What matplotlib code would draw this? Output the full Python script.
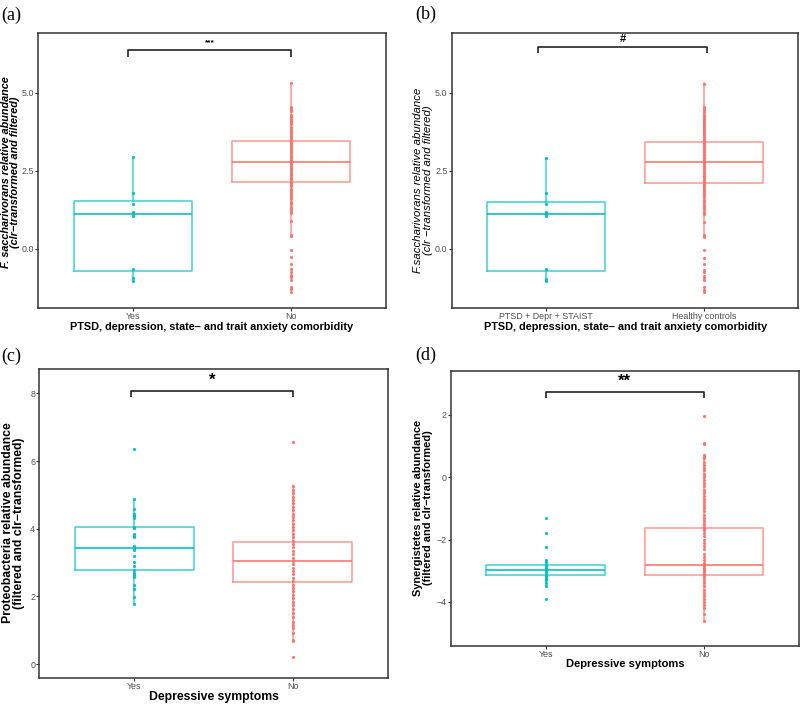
import matplotlib
matplotlib.use("Agg")
import matplotlib.pyplot as plt

plt.rcParams['font.family'] = ['Liberation Sans', 'DejaVu Sans']

TEAL = "#00BFC4"
RED = "#F8766D"

# ---------------- data ----------------
cats_ab = ["Yes", "No"]
cats_b = ["PTSD + Depr + STAIST", "Healthy controls"]
cats_cd = ["Yes", "No"]

# box stats: [whislo, q1, median, q3, whishi]
box_ab_yes = [-1.02, -0.715, 1.12, 1.52, 2.93]
box_ab_no = [0.41, 2.13, 2.79, 3.44, 5.32]
box_c_yes = [1.77, 2.79, 3.42, 4.06, 4.87]
box_c_no = [0.67, 2.42, 3.04, 3.62, 5.26]
box_d_yes = [-3.51, -3.15, -2.99, -2.83, -2.66]
box_d_no = [-4.62, -3.15, -2.81, -1.64, 0.62]

pts_ab_yes = [2.93, 1.79, 1.43, 1.18, 1.12, 1.05, -0.64, -0.95, -1.02]
pts_ab_no = [5.30, 4.55, 4.50, 4.45, 4.40, 4.28, 4.22, 4.15, 4.10, 4.05, 3.98,
             3.90, 3.85, 3.78, 3.72, 3.65, 3.60, 3.55, 3.50, 3.45, 3.40, 3.35,
             3.30, 3.25, 3.20, 3.15, 3.10, 3.05, 3.00, 2.95, 2.90, 2.85, 2.80,
             2.78, 2.75, 2.70, 2.65, 2.60, 2.55, 2.50, 2.45, 2.40, 2.35, 2.30,
             2.25, 2.20, 2.15, 2.10, 2.05, 2.00, 1.92, 1.85, 1.78, 1.72, 1.65,
             1.58, 1.50, 1.42, 1.35, 1.28, 1.20, 1.13, 0.88, 0.44, 0.40, -0.04,
             -0.28, -0.49, -0.66, -0.75, -0.85, -0.92, -1.00, -1.22, -1.30, -1.38]
pts_c_yes = [6.35, 4.87, 4.58, 4.43, 4.38, 4.31, 4.06, 4.02, 3.86, 3.80, 3.76,
             3.49, 3.45, 3.40, 3.37, 3.19, 3.03, 2.90, 2.78, 2.70, 2.62, 2.58,
             2.34, 2.21, 1.99, 1.78]
pts_c_no = [6.57, 5.26, 5.15, 5.05, 4.95, 4.85, 4.75, 4.65, 4.55, 4.45, 4.35,
            4.25, 4.15, 4.05, 3.95, 3.85, 3.75, 3.65, 3.55, 3.45, 3.35, 3.25,
            3.15, 3.05, 2.95, 2.85, 2.75, 2.65, 2.55, 2.45, 2.35, 2.25, 2.15,
            2.05, 1.95, 1.85, 1.75, 1.62, 1.52, 1.40, 1.26, 1.15, 1.06, 0.91,
            0.70, 0.67, 0.22]
pts_d_yes = [-1.30, -1.79, -2.23, -2.66, -2.72, -2.80, -2.86, -2.92, -2.98,
             -3.04, -3.10, -3.16, -3.22, -3.30, -3.40, -3.50, -3.89]
pts_d_no = [1.95, 1.08, 1.06, 0.70, 0.65, 0.60, 0.50, 0.40, 0.30, 0.22, 0.10,
            0.00, -0.10, -0.20, -0.30, -0.40, -0.50, -0.60, -0.70, -0.80, -0.90,
            -1.00, -1.10, -1.20, -1.30, -1.40, -1.50, -1.60, -1.65, -1.70, -1.80,
            -1.90, -2.00, -2.10, -2.20, -2.30, -2.45, -2.55, -2.65, -2.75, -2.80,
            -2.85, -2.90, -2.95, -3.00, -3.05, -3.10, -3.15, -3.20, -3.30, -3.40,
            -3.50, -3.60, -3.70, -3.80, -3.90, -4.00, -4.10, -4.20, -4.37, -4.61]

# ---------------- figure ----------------
W, H = 800.0, 704.0
fig = plt.figure(figsize=(8, 7.04), dpi=100)

def mkstats(b):
    return dict(whislo=b[0], q1=b[1], med=b[2], q3=b[3], whishi=b[4], fliers=[])

def rect(x0, y0, x1, y1):
    return [x0 / W, 1 - y1 / H, (x1 - x0) / W, (y1 - y0) / H]

def panel(box_px, boxes, pts, cats, ylim, yticks, yticklabels,
          ylabel, ylab_kw, ylab_xy, ylab_size,
          xlabel, xlab_size, xlab_y,
          bracket, sig, sig_size, letter, letter_xy):
    ax = fig.add_axes(rect(*box_px))
    colors = [TEAL, RED]
    for i, (b, p, c) in enumerate(zip(boxes, pts, colors)):
        pos = i + 1
        ax.bxp([mkstats(b)], positions=[pos], widths=0.75, showfliers=False,
               manage_ticks=False,
               boxprops=dict(color=c, lw=1.1, alpha=0.75),
               medianprops=dict(color=c, lw=1.3, alpha=0.9),
               whiskerprops=dict(color=c, lw=1.1, alpha=0.75),
               capprops=dict(lw=0))
        ax.scatter([pos] * len(p), p, s=5, color=c, lw=0, zorder=3)
    ax.set_xlim(0.4, 2.6)
    ax.set_ylim(*ylim)
    ax.set_xticks([1, 2])
    ax.set_xticklabels(cats, fontsize=6.4, color="#4D4D4D")
    ax.set_yticks(yticks)
    ax.set_yticklabels(yticklabels, fontsize=6.4, color="#4D4D4D")
    ax.tick_params(length=2, width=0.8, color="#333333", pad=1)
    for s in ax.spines.values():
        s.set_color("#333333")
        s.set_linewidth(1.1)
    fig.text(ylab_xy[0] / W, 1 - ylab_xy[1] / H, ylabel, rotation=90,
             fontsize=ylab_size, ha="center", va="center", linespacing=0.95,
             multialignment="center", **ylab_kw)
    cx = (box_px[0] + box_px[2]) / 2
    fig.text(cx / W, 1 - xlab_y / H, xlabel, fontsize=xlab_size,
             fontweight="bold", ha="center", va="center")
    x0, x1, yb, yt = bracket
    ax.plot([x0, x0, x1, x1], [yb, yt, yt, yb], color="#222222", lw=1.2,
            solid_capstyle="butt")
    ax.text((x0 + x1) / 2, yt + (ylim[1] - ylim[0]) * 0.012, sig,
            ha="center", va="bottom", fontsize=sig_size, fontweight="bold")
    fig.text(letter_xy[0] / W, 1 - letter_xy[1] / H, letter, fontsize=13,
             family="Liberation Serif", ha="left", va="center")
    return ax

panel((38, 33, 386, 308), [box_ab_yes, box_ab_no], [pts_ab_yes, pts_ab_no],
      cats_ab, (-1.90, 6.91), [0, 2.5, 5.0], ["0.0", "2.5", "5.0"],
      "F. saccharivorans relative abundance\n(clr\u2212transformed and filtered)",
      dict(fontweight="bold", style="italic"), (10.5, 172), 7.8,
      "PTSD, depression, state\u2013 and trait anxiety comorbidity", 7.8, 327,
      (0.97, 2.0, 6.15, 6.37), "***", 6, "(a)", (1, 15))

panel((451.7, 33.3, 798.3, 308.3), [box_ab_yes, box_ab_no], [pts_ab_yes, pts_ab_no],
      cats_b, (-1.90, 6.91), [0, 2.5, 5.0], ["0.0", "2.5", "5.0"],
      "F.saccharivorans relative abundance\n(clr \u2212transformed and filtered)",
      dict(style="italic"), (423, 180), 8.2,
      "PTSD, depression, state\u2013 and trait anxiety comorbidity", 7.8, 327,
      (0.95, 2.02, 6.28, 6.47), "#", 8, "(b)", (415, 14))

panel((39.3, 369, 387.7, 677.7), [box_c_yes, box_c_no], [pts_c_yes, pts_c_no],
      cats_cd, (-0.40, 8.72), [0, 2, 4, 6, 8], ["0", "2", "4", "6", "8"],
      "Proteobacteria relative abundance\n(filtered and clr\u2212transformed)",
      dict(fontweight="bold"), (13.5, 523), 8.8,
      "Depressive symptoms", 8.8, 697,
      (0.98, 2.0, 7.88, 8.07), "*", 12, "(c)", (1, 356))

panel((450.7, 371, 799, 645.7), [box_d_yes, box_d_no], [pts_d_yes, pts_d_no],
      cats_cd, (-5.40, 3.40), [-4, -2, 0, 2], ["\u22124", "\u22122", "0", "2"],
      "Synergistetes relative abundance\n(filtered and clr\u2212transformed)",
      dict(fontweight="bold"), (423, 508), 7.9,
      "Depressive symptoms", 8.0, 664,
      (1.0, 2.0, 2.52, 2.72), "**", 12, "(d)", (415, 355))

fig.savefig("out.png", dpi=100)
